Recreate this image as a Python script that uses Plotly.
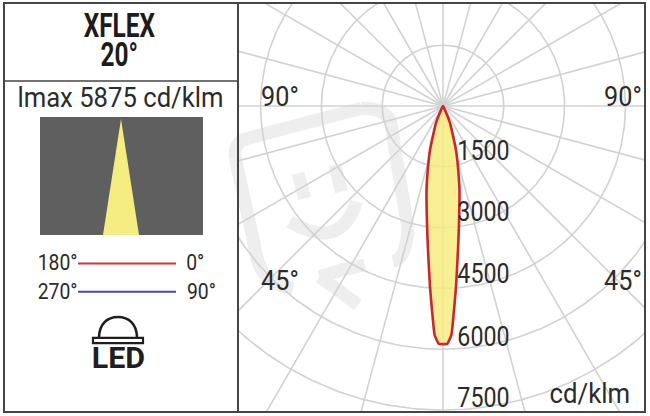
import json
import numpy as np
import plotly.graph_objects as go

TITLE_LINES = ["XFLEX", "20°"]
IMAX_LABEL = "lmax 5875 cd/klm"
RADIAL_TICKS = [1500, 3000, 4500, 6000, 7500]
SPOKE_ANGLES = [-180, -165, -150, -135, -120, -105, -90, -75, -60, -45, -30, -15,
                0, 15, 30, 45, 60, 75, 90, 105, 120, 135, 150, 165]
# half-curve, gamma in degrees from nadir, intensity in cd/klm
GAMMA = [0, 1.0, 2.1, 2.7, 4.1, 5.95, 7.65, 11.1, 13.8, 16.5, 22.4, 26, 30]
INTENSITY = [5875, 5870, 5650, 5285, 4480, 3570, 2960, 2110, 1550, 1130, 455, 110, 0]

W, H = 650, 416
CX, CY = 443, 106
K = 1500 / 60.8  # cd/klm per pixel
PX0, PX1, PY0, PY1 = 238, 645, 3, 412
GRID = "#d2d2d2"
INK = "#2b2b2b"
FONT = "Roboto"


def px(x):
    return x / W


def py(y):
    return 1 - y / H


def polar_xy(gamma, r):
    g = np.radians(np.asarray(gamma, dtype=float))
    r = np.asarray(r, dtype=float)
    return r * np.sin(g), -r * np.cos(g)


fig = go.Figure()

# grid
theta = np.linspace(0, 360, 361)
for r in RADIAL_TICKS:
    x, y = polar_xy(theta, np.full_like(theta, r))
    fig.add_trace(go.Scatter(x=x, y=y, mode="lines", line=dict(color=GRID, width=1.6), hoverinfo="skip"))
for a in SPOKE_ANGLES:
    x, y = polar_xy([a, a], [0, 12000])
    fig.add_trace(go.Scatter(x=x, y=y, mode="lines", line=dict(color=GRID, width=1.6), hoverinfo="skip"))

# photometric curve, symmetric
g_full = [-g for g in GAMMA[::-1]] + GAMMA[1:]
i_full = INTENSITY[::-1] + INTENSITY[1:]
x, y = polar_xy(g_full, i_full)
fig.add_trace(go.Scatter(x=x, y=y, mode="lines", fill="toself", fillcolor="rgba(246,234,125,0.82)",
                         line=dict(color="#c9282b", width=2.6, shape="spline", smoothing=0.5), hoverinfo="skip"))

shapes = []


def path_shape(d, color, width=0, fill=None, layer="above"):
    shapes.append(dict(type="path", xref="paper", yref="paper", path=d, layer=layer,
                       fillcolor=fill if fill else "rgba(0,0,0,0)",
                       line=dict(color=color, width=width)))


def P(*pts):
    return [f"{px(a):.5f} {py(b):.5f}" for a, b in pts]


def rect(x0, y0, x1, y1, fill=None, line=None, width=0, layer="above"):
    shapes.append(dict(type="rect", xref="paper", yref="paper", x0=px(x0), x1=px(x1), y0=py(y0), y1=py(y1),
                       fillcolor=fill if fill else "rgba(0,0,0,0)", layer=layer,
                       line=dict(color=line if line else "rgba(0,0,0,0)", width=width)))


def seg(x0, y0, x1, y1, color, width):
    shapes.append(dict(type="line", xref="paper", yref="paper", x0=px(x0), x1=px(x1), y0=py(y0), y1=py(y1),
                       line=dict(color=color, width=width)))


def zm(zx, zy):
    return (228 + zx / 3, 95 + zy / 3)


def stroke(*zpts, smooth=True):
    s = P(*[zm(*p) for p in zpts])
    if smooth and len(s) == 3:
        d = f"M {s[0]} Q {s[1]} {s[2]}"
    else:
        d = "M " + " L ".join(s)
    path_shape(d, "#eeeeee", width=13, layer="below")


# watermark
stroke((495, 500), (535, 490), (540, 400))
stroke((540, 400), (505, 190), (490, 90), smooth=False)
stroke((490, 90), (480, 40), (400, 40))
stroke((400, 40), (230, 85), (60, 130), smooth=False)
stroke((60, 130), (15, 140), (22, 190))
stroke((22, 190), (55, 340), (85, 480), smooth=False)
stroke((85, 480), (100, 565), (195, 580))
stroke((210, 235), (220, 270), (230, 310), smooth=False)
stroke((320, 210), (330, 250), (340, 290), smooth=False)
stroke((185, 380), (340, 470), (385, 320))
stroke((410, 510), (340, 525), (275, 545), smooth=False)
stroke((275, 545), (330, 585), (390, 630), smooth=False)

# frames
rect(4, 3, 645, 412, line="#454545", width=2)
seg(238, 3, 238, 412, "#454545", 2)
seg(4, 81, 238, 81, "#454545", 1.6)

# beam picture
rect(40, 117, 203, 235, fill="#5f5f5f")
path_shape("M " + " L ".join(P((121, 119), (139, 235), (103, 235))) + " Z", "rgba(0,0,0,0)", fill="#f5ec82")

# legend lines
seg(78, 263.5, 176, 263.5, "#d1343a", 2)
seg(78, 291.7, 176, 291.7, "#3f4f96", 2)

# LED icon
a, b, c, d1, e, f, g = P((99, 337), (99.5, 324), (107, 317), (118, 317), (129, 317), (136.5, 324), (137, 337))
path_shape(f"M {a} C {b} {c} {d1} C {e} {f} {g}", "#1f1f1f", width=2.6)
rect(93, 337.8, 143, 343.2, line="#1f1f1f", width=2.2)

annotations = []
stretch = []


def text(x, y, t, size, sx=0.83, bold=False, color=INK):
    label = f"<b>{t}</b>" if bold else t
    annotations.append(dict(xref="paper", yref="paper", x=px(x), y=py(y), text=label, showarrow=False,
                            xanchor="center", yanchor="middle", borderpad=0, borderwidth=0,
                            font=dict(family=FONT, size=size, color=color)))
    stretch.append(sx)


text(119, 25, TITLE_LINES[0], 33, sx=0.74, bold=True, color="#1c1c1c")
text(119, 55, TITLE_LINES[1], 33, sx=0.74, bold=True, color="#1c1c1c")
text(120, 98, IMAX_LABEL, 27, sx=0.95)
text(58, 262, "180°", 22, sx=0.88)
text(195, 262, "0°", 22, sx=0.88)
text(57, 291, "270°", 22, sx=0.88)
text(201, 291, "90°", 22, sx=0.88)
text(118, 358, "LED", 29, sx=1.05, bold=True, color="#1f1f1f")
text(280, 97, "90°", 28, sx=0.9)
text(623, 97, "90°", 28, sx=0.9)
text(280, 280, "45°", 28, sx=0.9)
text(623, 280, "45°", 28, sx=0.9)
for tick, xp, yp in zip(RADIAL_TICKS, [484, 484, 483, 483, 483], [150.5, 211, 273, 336, 397]):
    text(xp, yp, str(tick), 28)
text(590, 393, "cd/klm", 28, sx=0.92)

fig.update_layout(
    width=W, height=H, margin=dict(l=0, r=0, t=0, b=0), autosize=False,
    paper_bgcolor="white", plot_bgcolor="rgba(0,0,0,0)", showlegend=False,
    shapes=shapes, annotations=annotations,
    xaxis=dict(domain=[px(PX0), px(PX1)], range=[(PX0 - CX) * K, (PX1 - CX) * K], visible=False, fixedrange=True),
    yaxis=dict(domain=[py(PY1), py(PY0)], range=[(CY - PY1) * K, (CY - PY0) * K], visible=False, fixedrange=True),
)
post = """
document.body.style.margin='0';document.documentElement.style.overflow='hidden';
var S=%s;
function squeeze(){document.querySelectorAll('.annotation').forEach(function(a){
  var i=+a.getAttribute('data-index');var t=a.querySelector('.annotation-text');
  if(t){t.style.transformBox='fill-box';t.style.transformOrigin='center';t.style.transform='scaleX('+S[i]+')';}
});}
squeeze();var gd=document.getElementById('{plot_id}');if(gd&&gd.on){gd.on('plotly_afterplot',squeeze);}
setTimeout(squeeze,0);
""" % json.dumps(stretch)
fig.write_html("out.html", config=dict(displayModeBar=False), post_script=post)
